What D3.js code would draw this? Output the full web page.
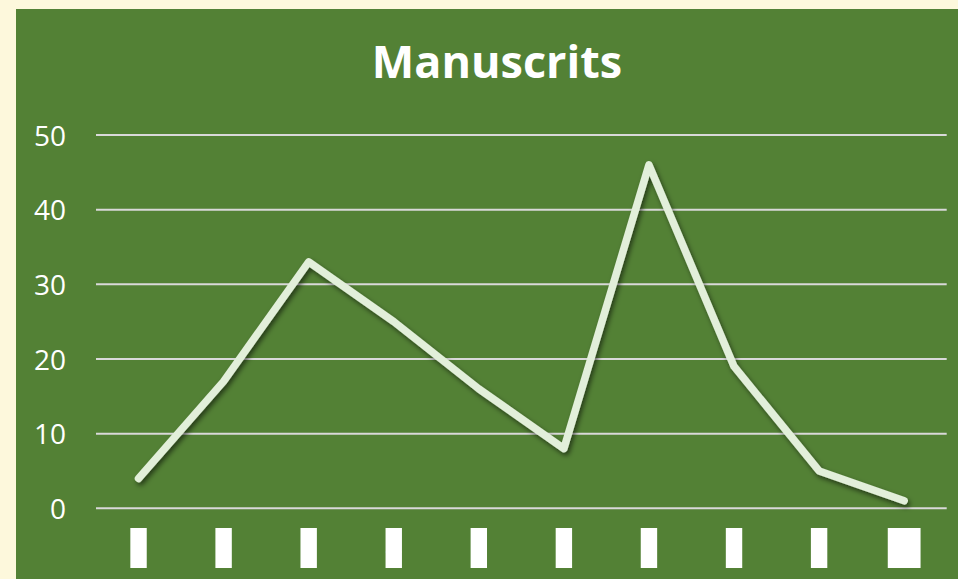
<!DOCTYPE html>
<html>
<head>
<meta charset="utf-8">
<script src="https://cdn.jsdelivr.net/npm/d3@7"></script>
<style>
  html, body { margin: 0; padding: 0; background: #fdf8dc; }
  svg { display: block; }
</style>
</head>
<body>
<svg id="chart" width="958" height="579"></svg>
<script>
const title = "Manuscrits";
const categories = ["1", "2", "3", "4", "5", "6", "7", "8", "9", "10"];
const values = [4, 17, 33, 25, 16, 8, 46, 19, 5, 1];
const yTicks = [0, 10, 20, 30, 40, 50];

const svg = d3.select("#chart");
const W = 958, H = 579;

// page background and panel
svg.append("rect").attr("width", W).attr("height", H).attr("fill", "#fdf8dc");
svg.append("rect").attr("x", 16).attr("y", 9).attr("width", W - 16).attr("height", H - 9).attr("fill", "#538135");

const defs = svg.append("defs");
const f = defs.append("filter").attr("id", "shadow").attr("x", "-10%").attr("y", "-10%").attr("width", "120%").attr("height", "120%");
f.append("feDropShadow").attr("dx", 2).attr("dy", 3).attr("stdDeviation", 2.5)
  .attr("flood-color", "#000").attr("flood-opacity", 0.55);

const x = d3.scaleBand().domain(categories).range([96, 946.7]);
const y = d3.scaleLinear().domain([0, 50]).range([508.3, 135]);

// gridlines
svg.append("g").selectAll("line").data(yTicks).join("line")
  .attr("x1", 96).attr("x2", 946.7)
  .attr("y1", d => y(d)).attr("y2", d => y(d))
  .attr("stroke", "#d9d9d9").attr("stroke-width", 2);

// y axis labels
const yAxis = d3.axisLeft(y).tickValues(yTicks).tickSize(0).tickPadding(0);
const gy = svg.append("g").attr("transform", "translate(66,0)").call(yAxis);
gy.select(".domain").remove();
gy.selectAll("text")
  .attr("fill", "#ffffff")
  .attr("font-family", "'Open Sans', sans-serif")
  .attr("font-size", 28)
  .attr("dy", "0.36em");

// x labels (rendered as solid white boxes as in the reference)
const gx = svg.append("g");
gx.selectAll("rect").data(categories).join("rect")
  .attr("x", d => x(d) + x.bandwidth() / 2 - 8.2 * d.length)
  .attr("width", d => 16.4 * d.length)
  .attr("y", 528).attr("height", 40)
  .attr("fill", "#ffffff");
gx.selectAll("text").data(categories).join("text")
  .attr("x", d => x(d) + x.bandwidth() / 2)
  .attr("y", 558)
  .attr("text-anchor", "middle")
  .attr("font-family", "'Open Sans', sans-serif")
  .attr("font-size", 28)
  .attr("fill", "#ffffff")
  .text(d => d);

// line
const line = d3.line()
  .x((d, i) => x(categories[i]) + x.bandwidth() / 2)
  .y(d => y(d));
svg.append("path").datum(values)
  .attr("d", line)
  .attr("fill", "none")
  .attr("stroke", "#e2efda")
  .attr("stroke-width", 7.5)
  .attr("stroke-linecap", "round")
  .attr("stroke-linejoin", "round")
  .attr("filter", "url(#shadow)");

// title
svg.append("text")
  .attr("x", 497).attr("y", 78)
  .attr("text-anchor", "middle")
  .attr("font-family", "'Open Sans', sans-serif")
  .attr("font-weight", "bold")
  .attr("font-size", 45)
  .attr("fill", "#ffffff")
  .text(title);
</script>
</body>
</html>
